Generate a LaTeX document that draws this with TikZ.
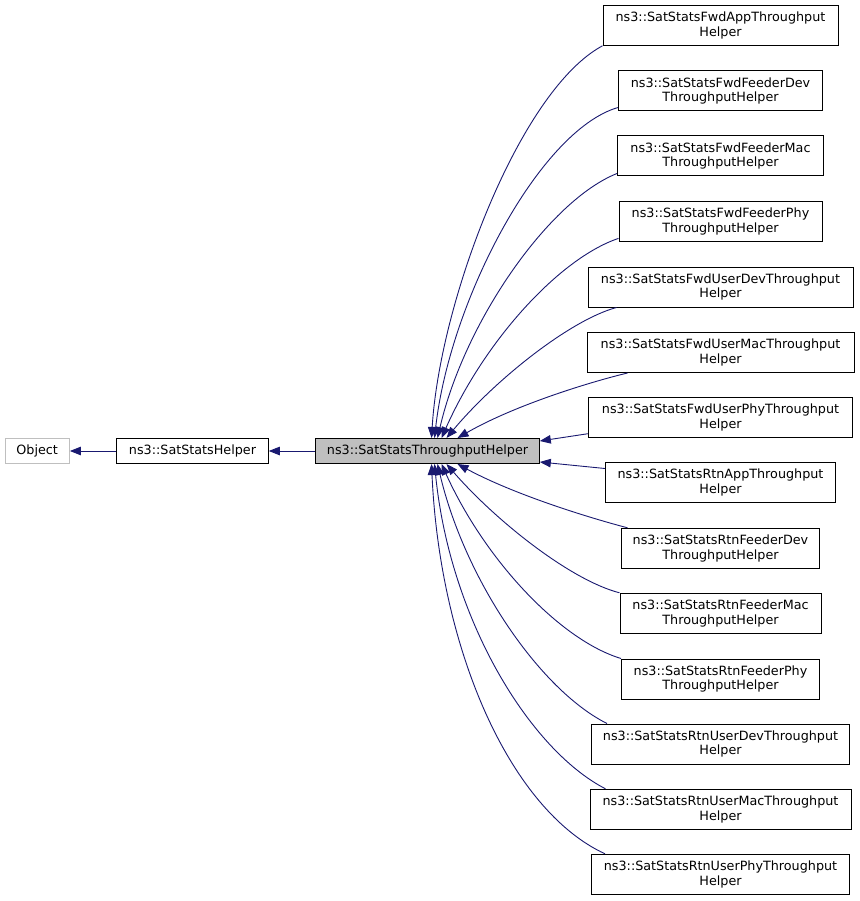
\documentclass[tikz,border=0pt]{standalone}
\usepackage{fontspec}
\setmainfont{DejaVu Sans}
\usetikzlibrary{arrows.meta}
\definecolor{edgeblue}{RGB}{25,25,112}
\definecolor{boxgray}{RGB}{191,191,191}
\tikzset{
  cls/.style={draw=black, line width=1pt, inner sep=0pt, align=center,
              font=\fontsize{12.75}{14.5}\selectfont},
  rbox/.style={cls, minimum height=40pt},
  sbox/.style={cls, minimum height=25pt},
  edge/.style={draw=edgeblue, line width=0.9pt,
               -{Triangle[length=11pt,width=8.5pt]}, fill=none},
}
\begin{document}
\begin{tikzpicture}[x=1pt,y=-1pt]
\path[use as bounding box] (0,0) rectangle (859,901);

% left column
\node[sbox, draw=boxgray, minimum width=64.3pt] (obj) at (37.2,451) {Object};
\node[sbox, minimum width=151.6pt] (ssh) at (192.5,451) {ns3::SatStatsHelper};
\node[sbox, fill=boxgray, minimum width=223.6pt] (c) at (427.5,451) {ns3::SatStatsThroughputHelper};

% right column
\node[rbox, minimum width=235pt] (n1)  at (720.5,25.3)  {ns3::SatStatsFwdAppThroughput\\Helper};
\node[rbox, minimum width=204pt] (n2)  at (720.5,91)    {ns3::SatStatsFwdFeederDev\\ThroughputHelper};
\node[rbox, minimum width=206pt] (n3)  at (720.5,156)   {ns3::SatStatsFwdFeederMac\\ThroughputHelper};
\node[rbox, minimum width=203pt] (n4)  at (720.5,221.4) {ns3::SatStatsFwdFeederPhy\\ThroughputHelper};
\node[rbox, minimum width=265pt] (n5)  at (720.5,287)   {ns3::SatStatsFwdUserDevThroughput\\Helper};
\node[rbox, minimum width=267pt] (n6)  at (720.5,352.5) {ns3::SatStatsFwdUserMacThroughput\\Helper};
\node[rbox, minimum width=264pt] (n7)  at (720.5,417.7) {ns3::SatStatsFwdUserPhyThroughput\\Helper};
\node[rbox, minimum width=230pt] (n8)  at (720.5,482.5) {ns3::SatStatsRtnAppThroughput\\Helper};
\node[rbox, minimum width=198pt] (n9)  at (720.5,548.3) {ns3::SatStatsRtnFeederDev\\ThroughputHelper};
\node[rbox, minimum width=201pt] (n10) at (720.5,613.3) {ns3::SatStatsRtnFeederMac\\ThroughputHelper};
\node[rbox, minimum width=198pt] (n11) at (720.5,679)   {ns3::SatStatsRtnFeederPhy\\ThroughputHelper};
\node[rbox, minimum width=258pt] (n12) at (720.5,744)   {ns3::SatStatsRtnUserDevThroughput\\Helper};
\node[rbox, minimum width=261pt] (n13) at (720.5,809.3) {ns3::SatStatsRtnUserMacThroughput\\Helper};
\node[rbox, minimum width=258pt] (n14) at (720.5,874.3) {ns3::SatStatsRtnUserPhyThroughput\\Helper};

% left edges
\draw[edge] (ssh.west) -- (obj.east);
\draw[edge] (c.west) -- (ssh.east);

% right edges (upper)
\draw[edge] (n1.south west) .. controls (520,90) and (440,300) .. ([xshift=4pt]c.north);
\draw[edge] ([yshift=4pt]n2.south west) .. controls (540,130) and (450,300) .. ([xshift=7pt]c.north);
\draw[edge] ([yshift=3pt]n3.south west) .. controls (550,200) and (465,320) .. ([xshift=10pt]c.north);
\draw[edge] ([yshift=3.5pt]n4.south west) .. controls (560,258) and (485,340) .. ([xshift=14pt]c.north);
\draw[edge] ([xshift=29pt]n5.south west) .. controls (570,320) and (495,380) .. ([xshift=19pt]c.north);
\draw[edge] ([xshift=41pt]n6.south west) .. controls (590,382) and (515,405) .. ([xshift=30pt]c.north);
\draw[edge] ([yshift=4.5pt]n7.south west) -- ([yshift=-3pt]c.north east);
\draw[edge] ([yshift=-6.5pt]n8.north west) -- ([yshift=2pt]c.south east);

% right edges (lower)
\draw[edge] ([xshift=6.5pt]n9.north west) .. controls (590,518) and (515,495) .. ([xshift=30pt]c.south);
\draw[edge] (n10.north west) .. controls (570,580) and (495,520) .. ([xshift=19pt]c.south);
\draw[edge] (n11.north west) .. controls (560,640) and (485,560) .. ([xshift=14pt]c.south);
\draw[edge] ([xshift=16pt]n12.north west) .. controls (540,690) and (465,580) .. ([xshift=10pt]c.south);
\draw[edge] ([xshift=16pt]n13.north west) .. controls (530,750) and (450,620) .. ([xshift=7pt]c.south);
\draw[edge] ([xshift=14pt]n14.north west) .. controls (510,810) and (440,650) .. ([xshift=4pt]c.south);
\end{tikzpicture}
\end{document}
